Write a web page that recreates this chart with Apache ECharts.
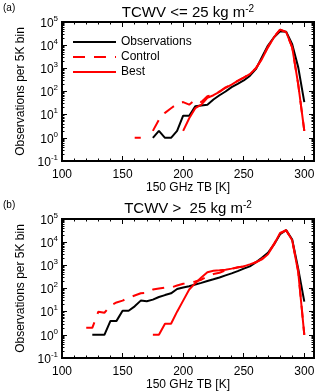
<!DOCTYPE html>
<html>
<head>
<meta charset="utf-8">
<script src="https://cdn.jsdelivr.net/npm/echarts@6/dist/echarts.min.js"></script>
<style>
  html, body { margin: 0; padding: 0; background: #fff; }
  #chart { width: 320px; height: 392px; }
</style>
</head>
<body>
<div id="chart"></div>
<script>
// (a) TCWV <= 25 kg m-2 ，150 GHz 亮温分箱
const tbA = [160, 165, 170, 175, 180, 185, 190, 195, 200, 205, 210, 215, 220, 225, 230,
  235, 240, 245, 250, 255, 260, 265, 270, 275, 280, 285, 290, 295, 300];
const obsA = [null, null, null, 1, 2, 1, 1, 2, 9, 9, 23, 25, 27, 45, 69,
  100, 155, 215, 300, 470, 920, 3000, 9700, 22000, 40000, 38000, 11000, 1100, 35];
const controlA = [1, 1, null, 2, 6, 12, 19, 29, 35, 27, 45, 35, 62, 74, 100,
  150, 200, 290, 400, 560, 1000, 2600, 8500, 23000, 47000, 37000, 8000, 200, 2];
const bestA = [null, null, null, null, null, null, null, null, 2, 7, 19, 27, 53, 69, 97,
  145, 200, 285, 400, 560, 1000, 2500, 8000, 22000, 47000, 37000, 8000, 200, 2];

// (b) TCWV > 25 kg m-2
const tbB = [120, 125, 130, 135, 140, 145, 150, 155, 160, 165, 170, 175, 180, 185, 190,
  195, 200, 205, 210, 215, 220, 225, 230, 235, 240, 245, 250, 255, 260, 265,
  270, 275, 280, 285, 290, 295, 300];
const obsB = [null, 1, 1, 1, 4, 4, 11, 11, 17, 30, 28, 33, 43, 52, 62,
  95, 110, 125, 150, 175, 210, 250, 300, 370, 450, 560, 720, 900, 1350, 2100,
  3500, 8000, 22000, 33000, 13000, 700, 27];
const controlB = [2, 2, 10, 9, 18, 25, 30, 40, 50, 62, 65, 90, 100, 110, 110,
  135, 160, 170, 200, 240, 330, 420, 480, 600, 700, 800, 900, 1100, 1350, 1900,
  3200, 8500, 23000, 33000, 12000, 550, 1];
const bestB = [null, null, null, null, null, null, null, null, null, null, null, 1, 1, 3, 3,
  10, 30, 90, 170, 300, 500, 580, 610, 650, 720, 820, 900, 1100, 1350, 1800,
  3000, 8000, 25000, 33000, 12000, 500, 1];

// 坐标刻度
const xMajor = [100, 150, 200, 250, 300];
const xMinor = [110, 120, 130, 140, 160, 170, 180, 190, 210, 220, 230, 240, 260, 270, 280, 290];
const yMajor = [0.1, 1, 10, 100, 1000, 10000, 100000];
const yMinor = [];
for (let i = 0; i < yMajor.length - 1; i++) {
  for (let k = 2; k <= 9; k++) yMinor.push(yMajor[i] * k);
}

const FONT = 'Liberation Sans, Arial, sans-serif';
const grids = [
  { left: 62, top: 22, width: 252, height: 139 },
  { left: 62, top: 219, width: 252, height: 139 }
];

function xAxes(g) {
  const base = { gridIndex: g, type: 'value', min: 100, max: 308,
    axisLine: { show: false }, splitLine: { show: false } };
  const tick = (vals, len) => ({ show: true, inside: true, length: len, customValues: vals,
    lineStyle: { color: '#000', width: 1 } });
  return [
    Object.assign({}, base, {
      position: 'bottom', axisTick: tick(xMajor, 5),
      axisLabel: { customValues: xMajor, margin: 8, fontSize: 12, color: '#000', fontFamily: FONT },
      name: '150 GHz TB [K]', nameLocation: 'middle', nameGap: 20,
      nameTextStyle: { fontSize: 12, color: '#000', fontFamily: FONT }
    }),
    Object.assign({}, base, { position: 'bottom', axisTick: tick(xMinor, 2.5), axisLabel: { show: false } }),
    Object.assign({}, base, { position: 'top', axisTick: tick(xMajor, 5), axisLabel: { show: false } }),
    Object.assign({}, base, { position: 'top', axisTick: tick(xMinor, 2.5), axisLabel: { show: false } })
  ];
}

function yAxes(g) {
  const base = { gridIndex: g, type: 'log', logBase: 10, min: 0.1, max: 100000,
    axisLine: { show: false }, splitLine: { show: false } };
  const tick = (vals, len) => ({ show: true, inside: true, length: len, customValues: vals,
    lineStyle: { color: '#000', width: 1 } });
  return [
    Object.assign({}, base, {
      position: 'left', axisTick: tick(yMajor, 5),
      axisLabel: {
        customValues: yMajor, margin: 4, color: '#000',
        formatter: v => '{b|10}{s|' + Math.round(Math.log10(v)) + '}',
        rich: {
          b: { fontSize: 12, fontFamily: FONT, color: '#000', lineHeight: 15, padding: [3, 0, 0, 0] },
          s: { fontSize: 8, fontFamily: FONT, color: '#000', lineHeight: 9, verticalAlign: 'top' }
        }
      },
      name: 'Observations per 5K bin', nameLocation: 'middle', nameGap: 30,
      nameTextStyle: { fontSize: 12, color: '#000', fontFamily: FONT }
    }),
    Object.assign({}, base, { position: 'left', axisTick: tick(yMinor, 2.5), axisLabel: { show: false } }),
    Object.assign({}, base, { position: 'right', axisTick: tick(yMajor, 5), axisLabel: { show: false } }),
    Object.assign({}, base, { position: 'right', axisTick: tick(yMinor, 2.5), axisLabel: { show: false } })
  ];
}

function pairs(xs, ys) {
  return xs.map((x, i) => [x, ys[i] == null ? '-' : ys[i]]);
}

function lineSeries(name, g, xs, ys, color, dashed) {
  return {
    type: 'line', name: name, xAxisIndex: g * 4, yAxisIndex: g * 4,
    data: pairs(xs, ys), symbol: 'none', showSymbol: false, connectNulls: false,
    lineStyle: { color: color, width: 2, type: dashed ? [12, 9] : 'solid' },
    itemStyle: { color: color }
  };
}

function title(y, label) {
  return {
    type: 'text', x: 188, y: y,
    style: {
      text: '{n|' + label + '}{s|-2}', align: 'center', verticalAlign: 'middle',
      rich: {
        n: { fontSize: 15, fontFamily: FONT, fill: '#000', lineHeight: 18 },
        s: { fontSize: 10, fontFamily: FONT, fill: '#000', lineHeight: 11, verticalAlign: 'top' }
      }
    }
  };
}

const chart = echarts.init(document.getElementById('chart'));
chart.setOption({
  animation: false,
  grid: grids.map(g => Object.assign({ show: true, borderColor: '#000', borderWidth: 2 }, g)),
  xAxis: xAxes(0).concat(xAxes(1)),
  yAxis: yAxes(0).concat(yAxes(1)),
  legend: {
    data: ['Observations', 'Control', 'Best'],
    orient: 'vertical', left: 72, top: 36, padding: 0,
    itemWidth: 43, itemHeight: 12, itemGap: 3,
    itemStyle: { opacity: 0 },
    textStyle: { fontSize: 12, color: '#000', fontFamily: FONT }
  },
  graphic: [
    { type: 'text', x: 3, y: 3, style: { text: '(a)', fontSize: 10, fontFamily: FONT, fill: '#000' } },
    { type: 'text', x: 3, y: 200, style: { text: '(b)', fontSize: 10, fontFamily: FONT, fill: '#000' } },
    title(13, 'TCWV <= 25 kg m'),
    title(209, 'TCWV >  25 kg m')
  ],
  series: [
    lineSeries('Observations', 0, tbA, obsA, '#000', false),
    lineSeries('Control', 0, tbA, controlA, '#ff0000', true),
    lineSeries('Best', 0, tbA, bestA, '#ff0000', false),
    lineSeries('Observations', 1, tbB, obsB, '#000', false),
    lineSeries('Control', 1, tbB, controlB, '#ff0000', true),
    lineSeries('Best', 1, tbB, bestB, '#ff0000', false)
  ]
});
</script>
</body>
</html>
